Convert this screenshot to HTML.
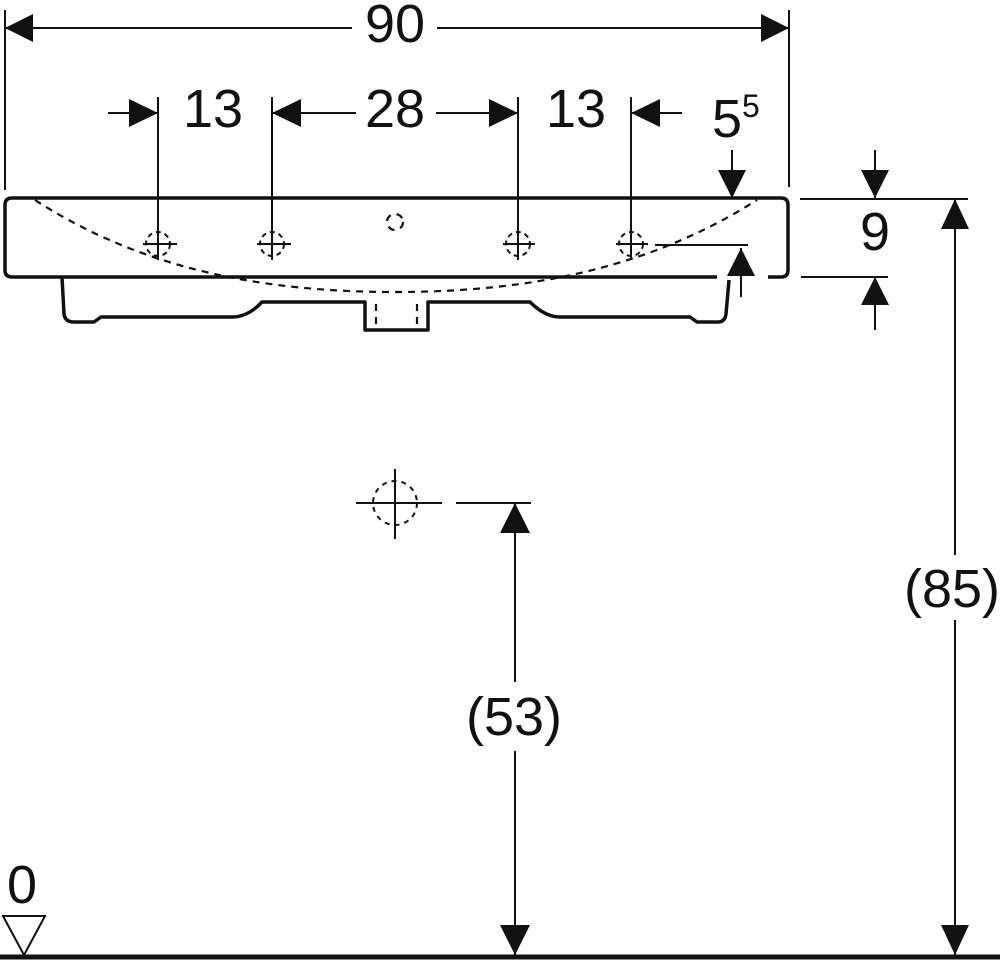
<!DOCTYPE html>
<html><head><meta charset="utf-8"><style>
html,body{margin:0;padding:0;background:#fff;}
svg{display:block;}
text{font-family:"Liberation Sans",Arial,sans-serif;fill:#111;}
</style></head><body>
<svg width="1000" height="962" viewBox="0 0 1000 962" xmlns="http://www.w3.org/2000/svg">
<g stroke="#111" stroke-width="2" fill="none">
<!-- top 90 dim -->
<line x1="5" y1="10" x2="5" y2="190"/>
<line x1="789" y1="10" x2="789" y2="187"/>
<line x1="5" y1="28" x2="352" y2="28"/>
<line x1="437" y1="28" x2="789" y2="28"/>
<!-- row 2 -->
<line x1="158" y1="97" x2="158" y2="245"/>
<line x1="272" y1="97" x2="272" y2="245"/>
<line x1="518" y1="97" x2="518" y2="245"/>
<line x1="631" y1="97" x2="631" y2="245"/>
<line x1="108" y1="113" x2="158" y2="113"/>
<line x1="272" y1="113" x2="356" y2="113"/>
<line x1="436" y1="113" x2="518" y2="113"/>
<line x1="631" y1="113" x2="682" y2="113"/>
<!-- 5^5 arrows -->
<line x1="732" y1="150" x2="732" y2="198"/>
<line x1="655" y1="245" x2="748" y2="245"/>
<line x1="741" y1="248" x2="741" y2="297"/>
<!-- right 9 dim -->
<line x1="800" y1="199" x2="968" y2="199"/>
<line x1="801" y1="277" x2="888" y2="277"/>
<line x1="875" y1="150" x2="875" y2="198"/>
<line x1="875" y1="277" x2="875" y2="330"/>
<!-- 85 dim -->
<line x1="955" y1="199" x2="955" y2="555"/>
<line x1="955" y1="620" x2="955" y2="955"/>
<!-- drain -->
<line x1="356" y1="503" x2="442" y2="503"/>
<line x1="395" y1="469" x2="395" y2="539"/>
<circle cx="395" cy="503" r="22" stroke-dasharray="5,5"/>
<line x1="456" y1="503" x2="531" y2="503"/>
<line x1="515" y1="503" x2="515" y2="682"/>
<line x1="515" y1="751" x2="515" y2="955"/>
</g>
<!-- basin -->
<g stroke="#111" stroke-width="3.5" fill="none" stroke-linejoin="round">
<path d="M717,277 L12,277 Q5,277 5,270 L5,205 Q5,198 12,198 L781,198 Q788,198 788,205 L788,270 Q788,277 781,277 L768,277"/>
<path d="M62,277 L64,314 Q65,322 74,322 L94,322 L101,317 L232,317 Q248,317 262,302 L365,302 L365,330 L428,330 L428,302 L530,302 Q545,317 560,317 L690,317 L697,322 L718,322 Q725,322 726,314 L729,280"/>
</g>
<g stroke="#111" stroke-width="2.2" fill="none" stroke-dasharray="7,6">
<path d="M35,200 C140,268 260,292 395,292 C530,292 650,268 757,200"/>
<line x1="376" y1="304" x2="376" y2="330"/>
<line x1="417" y1="304" x2="417" y2="330"/>
<circle cx="395" cy="222" r="8"/>
</g>
<!-- tap holes -->
<g stroke="#111" stroke-width="2" fill="none">
<g id="t"><circle cx="158" cy="244" r="12" stroke-dasharray="5,4"/><line x1="143" y1="244" x2="177" y2="244"/><line x1="158" y1="230" x2="158" y2="260"/></g>
<circle cx="272" cy="244" r="12" stroke-dasharray="5,4"/><line x1="257" y1="244" x2="291" y2="244"/><line x1="272" y1="230" x2="272" y2="260"/>
<circle cx="518" cy="244" r="12" stroke-dasharray="5,4"/><line x1="503" y1="244" x2="535" y2="244"/><line x1="518" y1="230" x2="518" y2="260"/>
<circle cx="631" cy="244" r="12" stroke-dasharray="5,4"/><line x1="616" y1="244" x2="648" y2="244"/><line x1="631" y1="230" x2="631" y2="260"/>
</g>
<!-- arrowheads -->
<g fill="#111">
<polygon points="5,28 33,14 33,42"/>
<polygon points="789,28 761,14 761,42"/>
<polygon points="158,113 129,99 129,127"/>
<polygon points="272,113 301,99 301,127"/>
<polygon points="518,113 489,99 489,127"/>
<polygon points="631,113 660,99 660,127"/>
<polygon points="732,198 718,170 746,170"/>
<polygon points="741,248 727,276 755,276"/>
<polygon points="875,198 861,170 889,170"/>
<polygon points="875,277 861,305 889,305"/>
<polygon points="955,199 941,229 969,229"/>
<polygon points="955,955 941,925 969,925"/>
<polygon points="515,503 500,533 530,533"/>
<polygon points="515,955 500,925 530,925"/>
</g>
<!-- ground -->
<line x1="0" y1="957" x2="1000" y2="957" stroke="#111" stroke-width="5"/>
<polygon points="3,916 45,916 24,955" fill="none" stroke="#111" stroke-width="2"/>
<!-- text -->
<g font-size="54" text-anchor="middle">
<text x="395" y="42">90</text>
<text x="213" y="127">13</text>
<text x="395" y="127">28</text>
<text x="576" y="127">13</text>
<text x="875" y="250">9</text>
<text x="952" y="607">(85)</text>
<text x="514" y="735">(53)</text>
<text x="22" y="903">0</text>
</g>
<text x="712" y="137" font-size="54">5<tspan font-size="32" dy="-20">5</tspan></text>
</svg>
</body></html>
